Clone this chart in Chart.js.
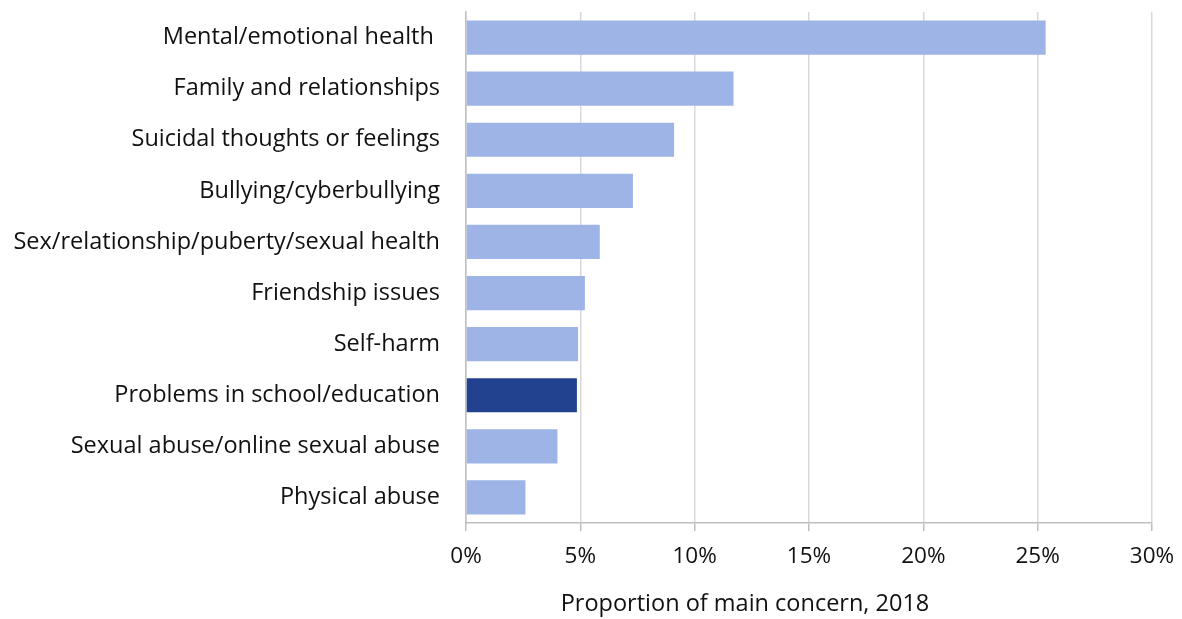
<!DOCTYPE html>
<html>
<head>
<meta charset="utf-8">
<script src="https://cdn.jsdelivr.net/npm/chart.js@4/dist/chart.umd.min.js"></script>
<style>
  html, body { margin: 0; padding: 0; background: #fff; }
  #wrap { width: 1182px; height: 619px; }
</style>
</head>
<body>
<div id="wrap"><canvas id="concernChart"></canvas></div>
<script>
// Main concern categories and their share (%)
const categories = [
    'Mental/emotional health ',
    'Family and relationships',
    'Suicidal thoughts or feelings',
    'Bullying/cyberbullying',
    'Sex/relationship/puberty/sexual health',
    'Friendship issues',
    'Self-harm',
    'Problems in school/education',
    'Sexual abuse/online sexual abuse',
    'Physical abuse'
];
const shares = [25.35, 11.7, 9.1, 7.3, 5.85, 5.2, 4.9, 4.85, 4.0, 2.6];
const highlighted = 'Problems in school/education';
const xTicks = [0, 5, 10, 15, 20, 25, 30];
const xTitle = 'Proportion of main concern, 2018';

const lightBlue = '#9eb4e7';
const darkBlue = '#22418f';
const fontFamily = '"Open Sans", sans-serif';
const textColor = '#111111';

const barColors = categories.map(c => c === highlighted ? darkBlue : lightBlue);

// Axis title sits left of the plot centre in the original, so draw it ourselves
const axisTitlePlugin = {
    id: 'axisTitle',
    afterDraw(chart) {
        const c = chart.ctx;
        c.save();
        c.font = '23.5px ' + fontFamily;
        c.fillStyle = textColor;
        c.textAlign = 'center';
        c.textBaseline = 'middle';
        c.fillText(xTitle, 745, 604);
        c.restore();
    }
};

const ctx = document.getElementById('concernChart').getContext('2d');
new Chart(ctx, {
    type: 'bar',
    data: {
        labels: categories,
        datasets: [{
            data: shares,
            backgroundColor: barColors,
            borderWidth: 0,
            categoryPercentage: 1,
            barPercentage: 0.67
        }]
    },
    options: {
        indexAxis: 'y',
        responsive: true,
        maintainAspectRatio: false,
        animation: false,
        layout: {
            padding: { top: 12, right: 30, left: 0, bottom: 37 }
        },
        plugins: {
            legend: { display: false },
            tooltip: { enabled: false }
        },
        scales: {
            x: {
                min: 0,
                max: 30,
                afterBuildTicks: scale => {
                    scale.ticks = xTicks.map(v => ({ value: v }));
                },
                afterFit: scale => {
                    // let the layout padding decide where the plot ends on the right
                    scale.paddingLeft = 0;
                    scale.paddingRight = 0;
                },
                ticks: {
                    callback: value => value + '%',
                    color: textColor,
                    padding: 12,
                    maxRotation: 0,
                    font: { family: fontFamily, size: 22.5 }
                },
                grid: {
                    color: '#d9d9d9',
                    lineWidth: 1.5,
                    tickLength: 8,
                    tickColor: '#bfbfbf'
                },
                border: { color: '#bfbfbf', width: 1.5 }
            },
            y: {
                afterFit: scale => {
                    // keep label column fixed and drop the tick-padding added above/below
                    scale.width = 466;
                    scale.paddingTop = 0;
                    scale.paddingBottom = 0;
                },
                ticks: {
                    color: textColor,
                    padding: 26,
                    font: { family: fontFamily, size: 23.5 }
                },
                grid: { display: false, drawTicks: false },
                border: { color: '#bfbfbf', width: 1.5 }
            }
        }
    },
    plugins: [axisTitlePlugin]
});
</script>
</body>
</html>
